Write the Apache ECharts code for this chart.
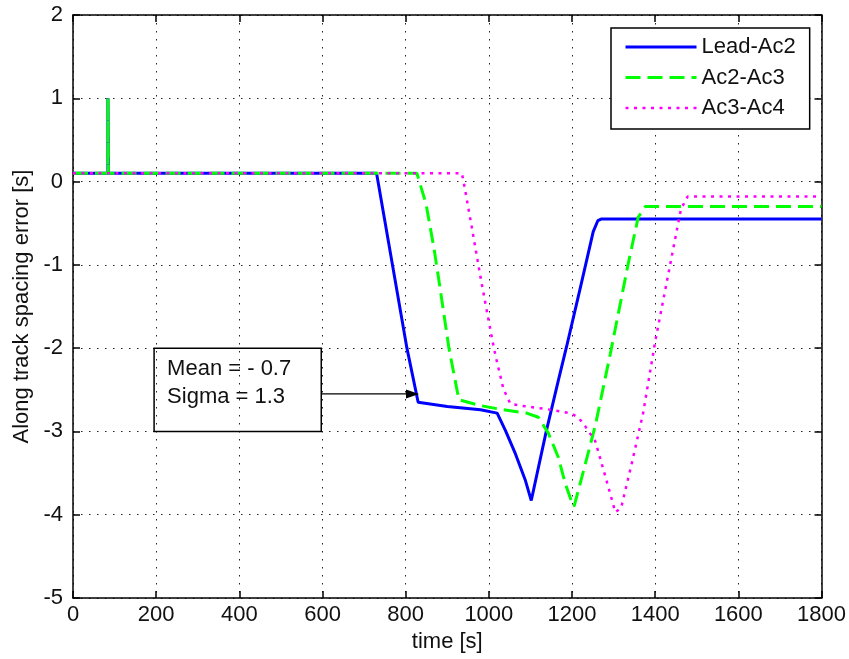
<!DOCTYPE html>
<html>
<head>
<meta charset="utf-8">
<script src="https://cdn.jsdelivr.net/npm/echarts@6/dist/echarts.min.js"></script>
<style>
html,body{margin:0;padding:0;background:#fff;}
#chart{width:849px;height:659px;}
</style>
</head>
<body>
<div id="chart"></div>
<script>
// ---- data ----
const seriesNames = ['Lead-Ac2', 'Ac2-Ac3', 'Ac3-Ac4'];

const leadTime = [0, 84, 84, 85, 85, 730, 803, 830, 900, 980, 1020, 1040, 1064, 1088, 1102, 1138, 1167, 1187, 1223, 1251, 1262, 1270, 1800];
const leadErr  = [0.1, 0.1, 1.0, 1.0, 0.1, 0.1, -2.0, -2.65, -2.7, -2.74, -2.78, -2.99, -3.27, -3.59, -3.83, -3.0, -2.39, -1.98, -1.21, -0.6, -0.47, -0.45, -0.45];

const ac23Time = [0, 84, 84, 85, 85, 827, 849, 868, 880, 904, 928, 980, 1023, 1091, 1119, 1143, 1167, 1184, 1201, 1205, 1215, 1232, 1256, 1292, 1335, 1359, 1376, 1800];
const ac23Err  = [0.1, 0.1, 1.0, 1.0, 0.1, 0.1, -0.27, -0.8, -1.19, -2.0, -2.62, -2.69, -2.73, -2.78, -2.83, -3.02, -3.31, -3.63, -3.87, -3.9, -3.71, -3.39, -2.93, -2.07, -0.99, -0.43, -0.3, -0.3];

const ac34Time = [0, 935, 940, 959, 980, 995, 1009, 1016, 1026, 1035, 1052, 1076, 1136, 1196, 1215, 1232, 1256, 1275, 1292, 1304, 1318, 1342, 1371, 1400, 1462, 1478, 1800];
const ac34Err  = [0.1, 0.1, -0.02, -0.55, -1.15, -1.55, -1.92, -2.09, -2.3, -2.49, -2.67, -2.69, -2.73, -2.78, -2.83, -2.94, -3.12, -3.45, -3.75, -3.97, -3.92, -3.42, -2.78, -1.92, -0.33, -0.18, -0.18];

const xTicks = [0, 200, 400, 600, 800, 1000, 1200, 1400, 1600, 1800];
const yTicks = [-5, -4, -3, -2, -1, 0, 1, 2];

const annotLines = ['Mean = - 0.7', 'Sigma = 1.3'];
const annotBox = [195, -2.0, 597, -3.0];   // [t1, y1, t2, y2]
const arrowTip = [832, -2.55];

const xTitle = 'time [s]';
const yTitle = 'Along track spacing error [s]';

// ---- chart ----
const FONT = "'Liberation Sans', Arial, Helvetica, sans-serif";
const pair = (t, v) => t.map((x, i) => [x, v[i]]);

const chart = echarts.init(document.getElementById('chart'), null, {renderer: 'canvas'});

const gridLine = {show: true, lineStyle: {color: '#222', width: 1, type: [1.5, 6.5]}};
const frameLine = {show: true, onZero: false, lineStyle: {color: '#000', width: 1.5}};
const inTick = {show: true, inside: true, length: 7, lineStyle: {color: '#000', width: 1.5}};
const plain = v => String(v);

const seriesStyles = [
  {color: '#0000ff', width: 3, type: 'solid'},
  {color: '#00ff00', width: 3, type: [15, 7]},
  {color: '#ff00ff', width: 2.5, type: [3, 5.5]}
];

const option = {
  animation: false,
  backgroundColor: '#fff',
  grid: {left: 73, right: 25, top: 15, bottom: 61, containLabel: false},
  xAxis: [
    {type: 'value', min: xTicks[0], max: xTicks[xTicks.length-1], interval: 200, position: 'bottom',
     axisLine: frameLine, axisTick: inTick, splitLine: gridLine,
     axisLabel: {color: '#111', fontFamily: FONT, fontSize: 22, margin: 6, formatter: plain},
     name: xTitle, nameLocation: 'middle', nameGap: 27,
     nameTextStyle: {color: '#111', fontFamily: FONT, fontSize: 22}},
    {type: 'value', min: xTicks[0], max: xTicks[xTicks.length-1], interval: 200, position: 'top',
     axisLine: frameLine, axisTick: inTick, splitLine: {show: false}, axisLabel: {show: false}}
  ],
  yAxis: [
    {type: 'value', min: yTicks[0], max: yTicks[yTicks.length-1], interval: 1, position: 'left',
     axisLine: frameLine, axisTick: inTick, splitLine: gridLine,
     axisLabel: {color: '#111', fontFamily: FONT, fontSize: 22, margin: 10, formatter: plain},
     name: yTitle, nameLocation: 'middle', nameGap: 39,
     nameTextStyle: {color: '#111', fontFamily: FONT, fontSize: 22}},
    {type: 'value', min: yTicks[0], max: yTicks[yTicks.length-1], interval: 1, position: 'right',
     axisLine: frameLine, axisTick: inTick, splitLine: {show: false}, axisLabel: {show: false}}
  ],
  legend: {
    orient: 'vertical', left: 611, top: 28,
    padding: [8, 14, 10, 13], itemGap: 8.5, itemWidth: 71, itemHeight: 22,
    backgroundColor: '#fff', borderColor: '#000', borderWidth: 1.5, borderRadius: 0,
    textStyle: {color: '#111', fontFamily: FONT, fontSize: 22},
    itemStyle: {opacity: 0},
    data: seriesNames.map((n, i) => ({
      name: n,
      lineStyle: {color: seriesStyles[i].color, width: seriesStyles[i].width, type: seriesStyles[i].type}
    }))
  },
  series: seriesNames.map((n, i) => ({
    name: n, type: 'line', symbol: 'none', z: 2 + i,
    data: [pair(leadTime, leadErr), pair(ac23Time, ac23Err), pair(ac34Time, ac34Err)][i],
    color: seriesStyles[i].color,
    lineStyle: {color: seriesStyles[i].color, width: seriesStyles[i].width, type: seriesStyles[i].type}
  }))
};
chart.setOption(option);

// annotation (positioned through the chart's own coordinate conversion)
const p1 = chart.convertToPixel({gridIndex: 0}, [annotBox[0], annotBox[1]]);
const p2 = chart.convertToPixel({gridIndex: 0}, [annotBox[2], annotBox[3]]);
const tip = chart.convertToPixel({gridIndex: 0}, arrowTip);
const bx = Math.min(p1[0], p2[0]), by = Math.min(p1[1], p2[1]);
const bw = Math.abs(p2[0] - p1[0]), bh = Math.abs(p2[1] - p1[1]);
chart.setOption({
  graphic: [
    {type: 'rect', shape: {x: bx, y: by, width: bw, height: bh}, z: 10,
     style: {fill: 'transparent', stroke: '#000', lineWidth: 1.5}},
    {type: 'text', x: bx + 13, y: by + 21, z: 11,
     style: {text: annotLines[0], fill: '#111', font: '22px ' + FONT, textVerticalAlign: 'middle'}},
    {type: 'text', x: bx + 13, y: by + 49, z: 11,
     style: {text: annotLines[1], fill: '#111', font: '22px ' + FONT, textVerticalAlign: 'middle'}},
    {type: 'line', z: 10, shape: {x1: bx + bw, y1: tip[1], x2: tip[0] - 8, y2: tip[1]},
     style: {stroke: '#000', lineWidth: 1.2}},
    {type: 'polygon', z: 10, shape: {points: [[tip[0], tip[1]], [tip[0] - 13, tip[1] - 4.5], [tip[0] - 13, tip[1] + 4.5]]},
     style: {fill: '#000'}}
  ]
});
</script>
</body>
</html>
